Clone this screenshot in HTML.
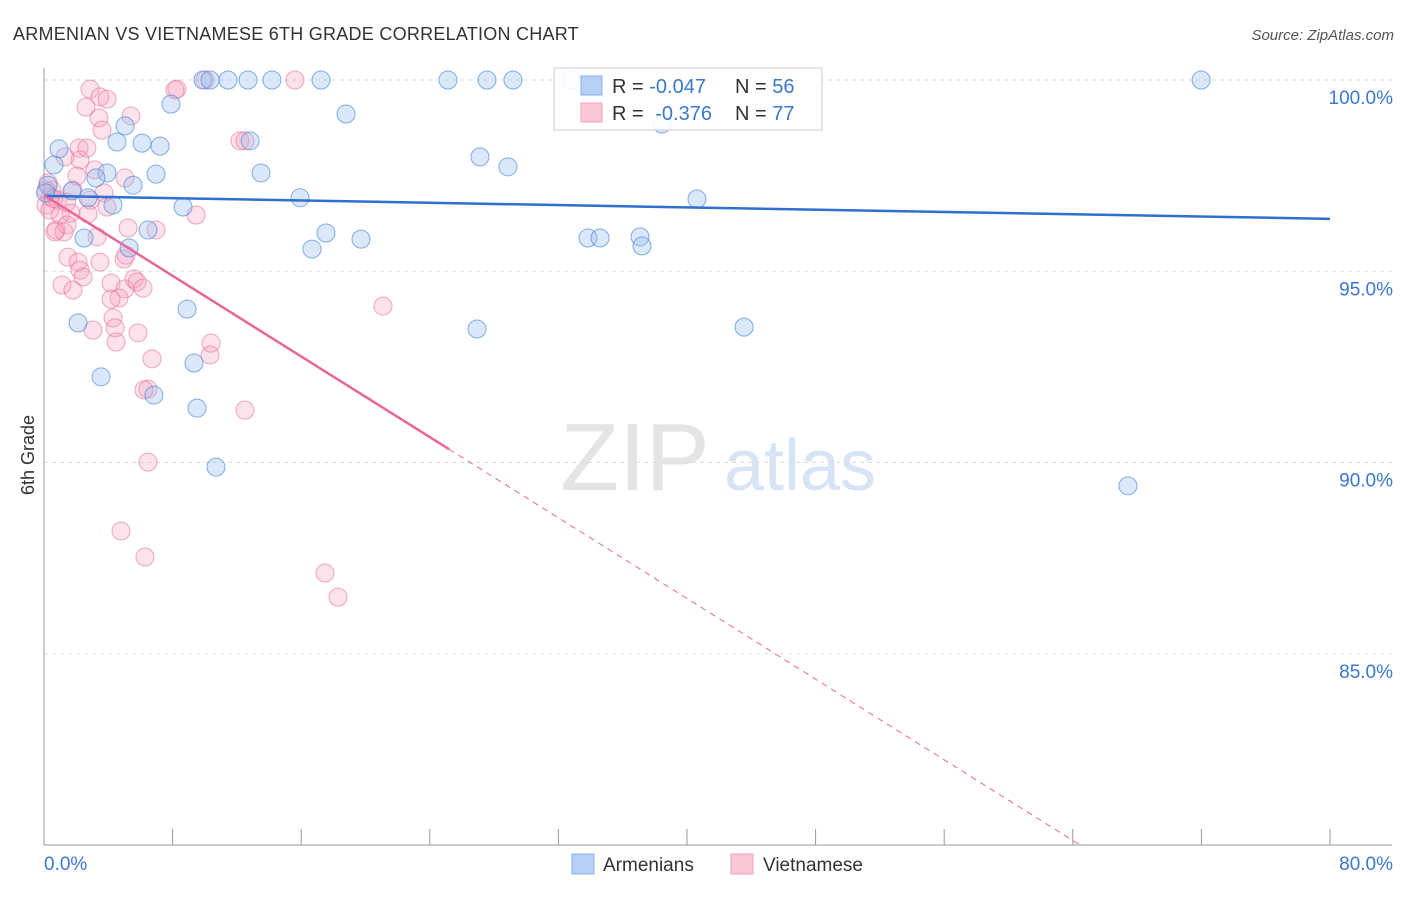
<!DOCTYPE html>
<html><head><meta charset="utf-8"><style>
body{margin:0;background:#fff;font-family:"Liberation Sans",sans-serif;}
svg text{font-family:"Liberation Sans",sans-serif;}
</style></head><body>
<svg id="chart" width="1406" height="892" xmlns="http://www.w3.org/2000/svg">
<text x="13" y="40" font-size="18" fill="#333" letter-spacing="0.25">ARMENIAN VS VIETNAMESE 6TH GRADE CORRELATION CHART</text>
<text x="1394" y="40" font-size="15" fill="#555" font-style="italic" text-anchor="end">Source: ZipAtlas.com</text>
<text x="34" y="455" font-size="18" fill="#333" transform="rotate(-90 34 455)" text-anchor="middle">6th Grade</text>
<g><text x="635" y="490" font-size="96" fill="#e4e4e4" text-anchor="middle" font-family="Liberation Serif">ZIP</text><text x="800" y="490" font-size="72" fill="#d6e4f5" text-anchor="middle">atlas</text></g>
<g id="grid"></g><g id="axes"></g><g id="pts"></g><g id="lines"></g>
<g>
<rect x="554" y="68" width="268" height="62" fill="#fff" fill-opacity="0.9" stroke="#ccc"/>
<rect x="581" y="76" width="21" height="19" fill="#b7d0f5" stroke="#8ab0e8"/>
<rect x="581" y="103" width="21" height="19" fill="#fbc8d8" stroke="#f0a0bb"/>
<text x="612" y="93" font-size="20" fill="#333">R = <tspan fill="#3a78d0">-0.047</tspan></text>
<text x="735" y="93" font-size="20" fill="#333">N = <tspan fill="#3a78d0">56</tspan></text>
<text x="612" y="120" font-size="20" fill="#333">R = <tspan fill="#3a78d0" dx="6">-0.376</tspan></text>
<text x="735" y="120" font-size="20" fill="#333">N = <tspan fill="#3a78d0">77</tspan></text>
</g>
<g>
<rect x="572" y="854" width="22" height="20" fill="#b7d0f5" stroke="#8ab0e8"/>
<text x="603" y="871" font-size="19" fill="#333">Armenians</text>
<rect x="731" y="854" width="22" height="20" fill="#fbc8d8" stroke="#f0a0bb"/>
<text x="763" y="871" font-size="19" fill="#333">Vietnamese</text>
</g>
</svg>
<script>
const yTicks=[100,95,90,85];
const yTickLabels=["100.0%","95.0%","90.0%","85.0%"];
const xTickValues=[0,8,16,24,32,40,48,56,64,72,80];
const xEndLabels=["0.0%","80.0%"];
const armX=[9.89,10.33,11.45,12.69,14.18,17.23,25.13,27.56,29.17,32.78,71.98,7.90,18.79,5.04,4.54,6.10,7.22,12.82,38.44,0.93,0.62,27.12,28.86,3.92,6.97,13.50,3.23,5.54,15.93,40.62,2.74,1.74,4.29,8.65,17.54,6.47,2.49,19.72,33.84,34.59,37.08,37.20,16.67,5.29,2.12,8.90,26.94,43.55,3.55,9.33,6.84,9.52,10.70,67.43,0.25,0.10];
const armY=[100,100,100,100,100,100,100,100,100,100,100,99.37,99.11,98.80,98.38,98.35,98.27,98.41,98.85,98.20,97.78,97.99,97.73,97.57,97.54,97.57,97.44,97.25,96.92,96.89,96.92,97.10,96.73,96.68,96.00,96.08,95.87,95.84,95.87,95.87,95.90,95.66,95.58,95.61,93.65,94.01,93.49,93.54,92.24,92.60,91.76,91.42,89.88,89.39,97.25,97.05];
const vieX=[2.86,3.48,3.92,2.61,3.42,3.61,5.41,8.27,8.15,10.02,15.61,12.19,12.50,1.31,2.18,2.67,2.24,3.17,5.04,2.05,3.73,1.80,0.50,0.37,0.87,2.86,3.92,1.68,1.00,2.74,0.75,1.24,1.43,3.30,5.23,6.97,9.46,1.49,2.12,3.48,4.98,2.24,2.43,1.12,1.80,4.17,5.04,5.60,5.79,6.16,4.67,4.17,5.10,21.09,4.29,4.42,3.05,5.85,4.48,10.39,10.33,6.72,6.47,6.22,12.50,6.47,4.79,6.28,17.48,18.29,0.25,0.12,0.37,0.68,0.12,0.60,1.40];
const vieY=[99.76,99.56,99.50,99.29,99.01,98.69,99.06,99.76,99.74,100,100,98.41,98.41,97.99,98.22,98.22,97.91,97.65,97.44,97.49,97.05,97.12,97.12,96.94,96.86,96.86,96.68,96.52,96.47,96.50,96.08,96.03,96.21,95.90,96.13,96.08,96.47,95.37,95.24,95.24,95.32,95.03,94.85,94.64,94.51,94.69,94.54,94.80,94.72,94.56,94.30,94.27,95.42,94.09,93.78,93.52,93.46,93.39,93.15,93.12,92.81,92.71,91.92,91.90,91.37,90.01,88.21,87.53,87.11,86.48,97.31,96.73,96.60,96.03,97.12,96.90,96.80];
const armTrend=[96.97,96.37];
const vieTrend=[96.99,75.9];
const vieSolidEnd=25.2;
const NS="http://www.w3.org/2000/svg";
function xs(v){return 44+v*(1286/80);}
function ys(v){return 80+(100-v)*38.25;}
function mk(tag,attrs,parent){const e=document.createElementNS(NS,tag);for(const k in attrs)e.setAttribute(k,attrs[k]);parent.appendChild(e);return e;}
const grid=document.getElementById('grid'),axes=document.getElementById('axes'),pts=document.getElementById('pts'),lines=document.getElementById('lines');
yTicks.forEach((t,i)=>{
 const l=mk('line',{x1:44,x2:1392,y1:ys(t),y2:ys(t),stroke:'#ddd','stroke-dasharray':'4,4'},grid);
 
 
 const tx=mk('text',{x:1393,y:ys(t)+24,'font-size':19,fill:'#3a78d0','text-anchor':'end'},axes);
 tx.textContent=yTickLabels[i];
 
 
});
const ya=mk('line',{x1:44,x2:44,y1:68,y2:845,stroke:'#999'},axes);


const xa=mk('line',{x1:44,x2:1392,y1:845,y2:845,stroke:'#999'},axes);


xTickValues.forEach(t=>{
 const l=mk('line',{x1:xs(t),x2:xs(t),y1:829,y2:845,stroke:'#999'},axes);
 
 
});
const xl0=mk('text',{x:44,y:870,'font-size':19,fill:'#3a78d0'},axes);xl0.textContent=xEndLabels[0];


const xl1=mk('text',{x:1393,y:870,'font-size':19,fill:'#3a78d0','text-anchor':'end'},axes);xl1.textContent=xEndLabels[1];


vieX.forEach((x,i)=>{
 const c=mk('circle',{cx:xs(x),cy:ys(vieY[i]),r:9,fill:'rgba(245,160,190,0.3)',stroke:'rgba(232,120,160,0.65)','stroke-width':1},pts);
 
 
});
armX.forEach((x,i)=>{
 const c=mk('circle',{cx:xs(x),cy:ys(armY[i]),r:9,fill:'rgba(150,190,240,0.35)',stroke:'rgba(80,140,220,0.7)','stroke-width':1},pts);
 
 
});
const a=mk('line',{x1:xs(0),y1:ys(armTrend[0]),x2:xs(80),y2:ys(armTrend[1]),stroke:'#2f6fd0','stroke-width':2.5},lines);


const slope=(vieTrend[1]-vieTrend[0])/(80-0);
const xEnd=(80-vieTrend[0])/slope;
const ym=vieTrend[0]+slope*vieSolidEnd;
const v1=mk('line',{x1:xs(0),y1:ys(vieTrend[0]),x2:xs(vieSolidEnd),y2:ys(ym),stroke:'#e8679a','stroke-width':2.5},lines);


const v2=mk('line',{x1:xs(vieSolidEnd),y1:ys(ym),x2:xs(xEnd),y2:ys(80),stroke:'#e8679a','stroke-width':1,'stroke-dasharray':'6,5'},lines);


</script>
</body></html>
